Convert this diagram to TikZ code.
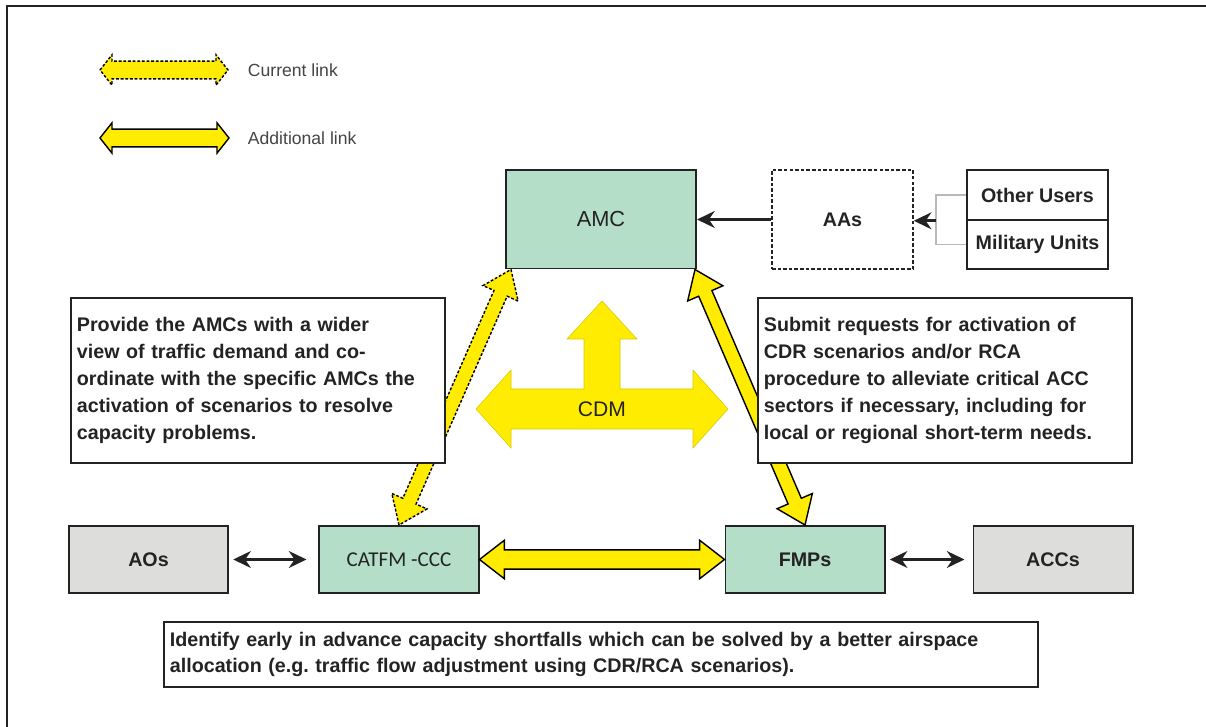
\documentclass[tikz,border=0pt]{standalone}
\usepackage{fontspec}
\setmainfont{Liberation Sans}
\newfontfamily\catfmfont{Carlito}
\usetikzlibrary{calc,arrows.meta}
\definecolor{boxgreen}{RGB}{180,222,200}
\definecolor{boxgrey}{RGB}{221,221,219}
\definecolor{linkyellow}{RGB}{255,236,0}
\definecolor{inkgrey}{RGB}{35,35,35}
\newcommand{\fatlink}[6][]{%
    \filldraw[#1] (#2)
        -- ($(#2)!#6!(#3)!#5!90:(#3)$)
        -- ($(#2)!#6!(#3)!#4!90:(#3)$)
        -- ($(#3)!#6!(#2)!#4!-90:(#2)$)
        -- ($(#3)!#6!(#2)!#5!-90:(#2)$)
        -- (#3)
        -- ($(#3)!#6!(#2)!#5!90:(#2)$)
        -- ($(#3)!#6!(#2)!#4!90:(#2)$)
        -- ($(#2)!#6!(#3)!#4!-90:(#3)$)
        -- ($(#2)!#6!(#3)!#5!-90:(#3)$)
        -- cycle;}
\begin{document}
\begin{tikzpicture}[x=0.025cm, y=-0.025cm,
        every node/.style={text=inkgrey},
        unit/.style={draw=inkgrey, line width=1.4pt, minimum width=3.975cm, minimum height=1.675cm,
            font=\fontsize{14}{16}\selectfont\bfseries},
        cell/.style={unit, fill=boxgreen},
        outer/.style={unit, fill=boxgrey},
        note/.style={draw=inkgrey, line width=1.4pt, fill=white, align=left, inner xsep=0.15cm,
            font=\fontsize{14}{19.2}\selectfont\bfseries},
        legend/.style={anchor=west, font=\fontsize{12.5}{15}\selectfont, text=inkgrey!85},
        curlink/.style={fill=linkyellow, draw=black, line width=1pt, dash pattern=on 2pt off 1.3pt},
        addlink/.style={fill=linkyellow, draw=black, line width=1pt},
        plain/.style={draw=inkgrey, line width=2pt},
        plainto/.style={plain, -{Stealth[length=4.4mm,width=4.2mm]}},
        plainboth/.style={plain, {Stealth[length=4.4mm,width=4.2mm]}-{Stealth[length=4.4mm,width=4.2mm]}},
        bracket/.style={draw=gray!55, line width=0.8pt}]
            \useasboundingbox (0,0) rectangle (1206,727);
            \draw[line width=1.8pt, draw=inkgrey] (1206,6) -- (7,6) -- (7,727);

            \coordinate (cur1) at (100,70);
            \coordinate (cur2) at (228,70);
            \fatlink[curlink]{cur1}{cur2}{0.22cm}{0.38cm}{0.3cm}
            \node[legend] (curtext) at (243,70) {Current link};
            \coordinate (add1) at (100,138);
            \coordinate (add2) at (229,138);
            \fatlink[addlink]{add1}{add2}{0.22cm}{0.38cm}{0.3cm}
            \node[legend] (addtext) at (243,138) {Additional link};

            \node[cell, minimum width=4.75cm, minimum height=2.45cm,
                font=\fontsize{15.5}{18}\selectfont] (amc) at (601,219.5) {AMC};
            \node[unit, line width=1.1pt, dash pattern=on 2.5pt off 1.5pt, minimum width=3.525cm,
                minimum height=2.475cm] (aas) at (842.5,219.5) {AAs};
            \node[unit, minimum width=3.525cm, minimum height=1.24cm] (others) at (1037.5,195) {Other Users};
            \node[unit, minimum width=3.525cm, minimum height=1.24cm] (military) at (1037.5,244.5) {Military Units};

            \node[outer] (aos) at (148.5,559.5) {AOs};
            \node[cell, font=\catfmfont\fontsize{15}{18}\selectfont] (catfm) at (399,559.5) {CATFM -CCC};
            \node[cell] (fmps) at (805,559.5) {FMPs};
            \node[outer] (accs) at (1053,559.5) {ACCs};

            \draw[plainto] (aas.west) -- (amc.east);
            \coordinate (fork) at ($(others.south west)+(-30,0)$);
            \draw[bracket] (others.west) -- ++(-30,0) |- (military.west);
            \draw[plainto] (fork) -- (fork -| aas.east);
            \draw[plainboth,shorten <=3pt,shorten >=0.3cm] (aos.east) -- (catfm.west);
            \draw[plainboth,shorten <=3pt,shorten >=0.2cm] (fmps.east) -- (accs.west);

            \coordinate (amcleft) at ($(amc.south west)+(6,0)$);
            \coordinate (amcright) at ($(amc.south east)+(-2,0)$);
            \fatlink[curlink]{catfm.north}{amcleft}{0.18cm}{0.48cm}{0.65cm}
            \fatlink[addlink]{fmps.north}{amcright}{0.18cm}{0.48cm}{0.65cm}
            \fatlink[addlink]{catfm.east}{fmps.west}{0.24cm}{0.48cm}{0.62cm}

            \coordinate (cdmmid) at (602,409);
            \filldraw[fill=linkyellow, draw=linkyellow!85!black, line width=0.4pt, shift={(cdmmid)}]
                (-126,0) -- (-91,-39) -- (-91,-20) -- (-18,-20) -- (-18,-70) -- (-35,-70)
                -- (0,-108) -- (35,-70) -- (18,-70) -- (18,-20) -- (91,-20) -- (91,-39)
                -- (126,0) -- (91,39) -- (91,20) -- (-91,20) -- (-91,39) -- cycle;
            \node[font=\fontsize{15}{18}\selectfont] (cdm) at (cdmmid) {CDM};

            \node[note, minimum height=4.125cm, text width=9.05cm] (amcnote) at (258,380.5)
                {Provide the AMCs with a wider\\
                view of traffic demand and co-\\
                ordinate with the specific AMCs the\\
                activation of scenarios to resolve\\
                capacity problems.};
            \node[note, minimum height=4.125cm, text width=9.05cm] (fmpnote) at (945,380.5)
                {Submit requests for activation of\\
                CDR scenarios and/or RCA\\
                procedure to alleviate critical ACC\\
                sectors if necessary, including for\\
                local or regional short-term needs.};
            \node[note, line width=1.8pt, minimum height=1.625cm, text width=21.55cm,
                font=\fontsize{14}{18.4}\selectfont\bfseries] (cellnote) at (601,654.5)
                {Identify early in advance capacity shortfalls which can be solved by a better airspace\\
                allocation (e.g.\ traffic flow adjustment using CDR/RCA scenarios).};
        \end{tikzpicture}
\end{document}
